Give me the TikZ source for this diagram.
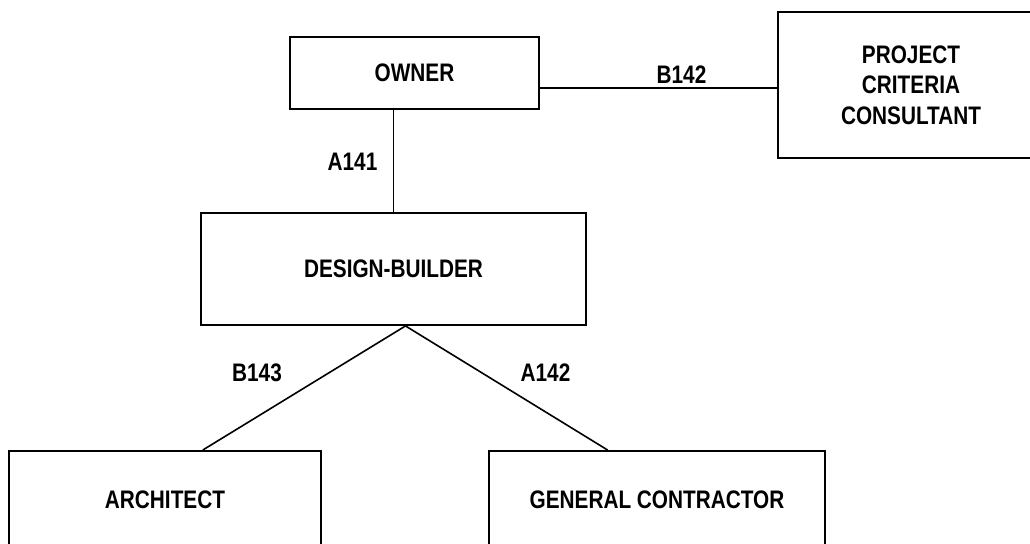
\documentclass[tikz,border=0pt]{standalone}
\usepackage{fontspec}
\setmainfont{Liberation Sans}[FakeStretch=0.82]
\usepackage{tikz}
\usetikzlibrary{calc}

\begin{document}
\begin{tikzpicture}[x=0.75pt,y=-0.75pt,
    party/.style={draw,line width=1.4pt,inner sep=0pt,align=center},
    deal/.style={font=\bfseries\fontsize{19}{23}\selectfont}]
  \useasboundingbox (0,0) rectangle (1030,543);
  \begin{scope}[every node/.append style={deal}]
  % parties
  \node[party,minimum width=186.75pt,minimum height=54pt] (owner) at (414.5,73) {OWNER};
  \node[party,draw=none,minimum width=210.75pt,minimum height=108pt] (pcc) at (919.5,85) {};
  \draw[line width=1.4pt] (pcc.north east) -| (pcc.south west) -- (pcc.south east);
  \node[align=center] (pcctext) at (911,85) {PROJECT\\CRITERIA\\CONSULTANT};
  \node[party,minimum width=288.75pt,minimum height=84pt] (db) at (393.5,269) {DESIGN-BUILDER};
  \node[party,minimum width=234.4pt,minimum height=73.5pt] (arch) at (165,500) {ARCHITECT};
  \node[party,minimum width=252pt,minimum height=73.5pt] (gc) at (657,500) {GENERAL CONTRACTOR};
  % agreements
  \draw[line width=1.4pt] ([yshift=-2.25pt]pcc.west) -- ([yshift=-2.25pt]pcc.west -| owner.east);
  \draw[line width=1.4pt] (db.north) -- (db.north |- owner.south);
  \coordinate (apex) at ([xshift=9pt]db.south);
  \draw[line width=1.2pt] (apex) -- ($(arch.north west)!0.62!(arch.north east)$);
  \draw[line width=1.2pt] (apex) -- ($(gc.north west)!0.354!(gc.north east)$);
  \node (b142) at (681.5,75) {B142};
  \node (a141) at (352.5,162) {A141};
  \node (b143) at (257,373) {B143};
  \node (a142) at (545.5,373) {A142};
  \end{scope}
\end{tikzpicture}
\end{document}
